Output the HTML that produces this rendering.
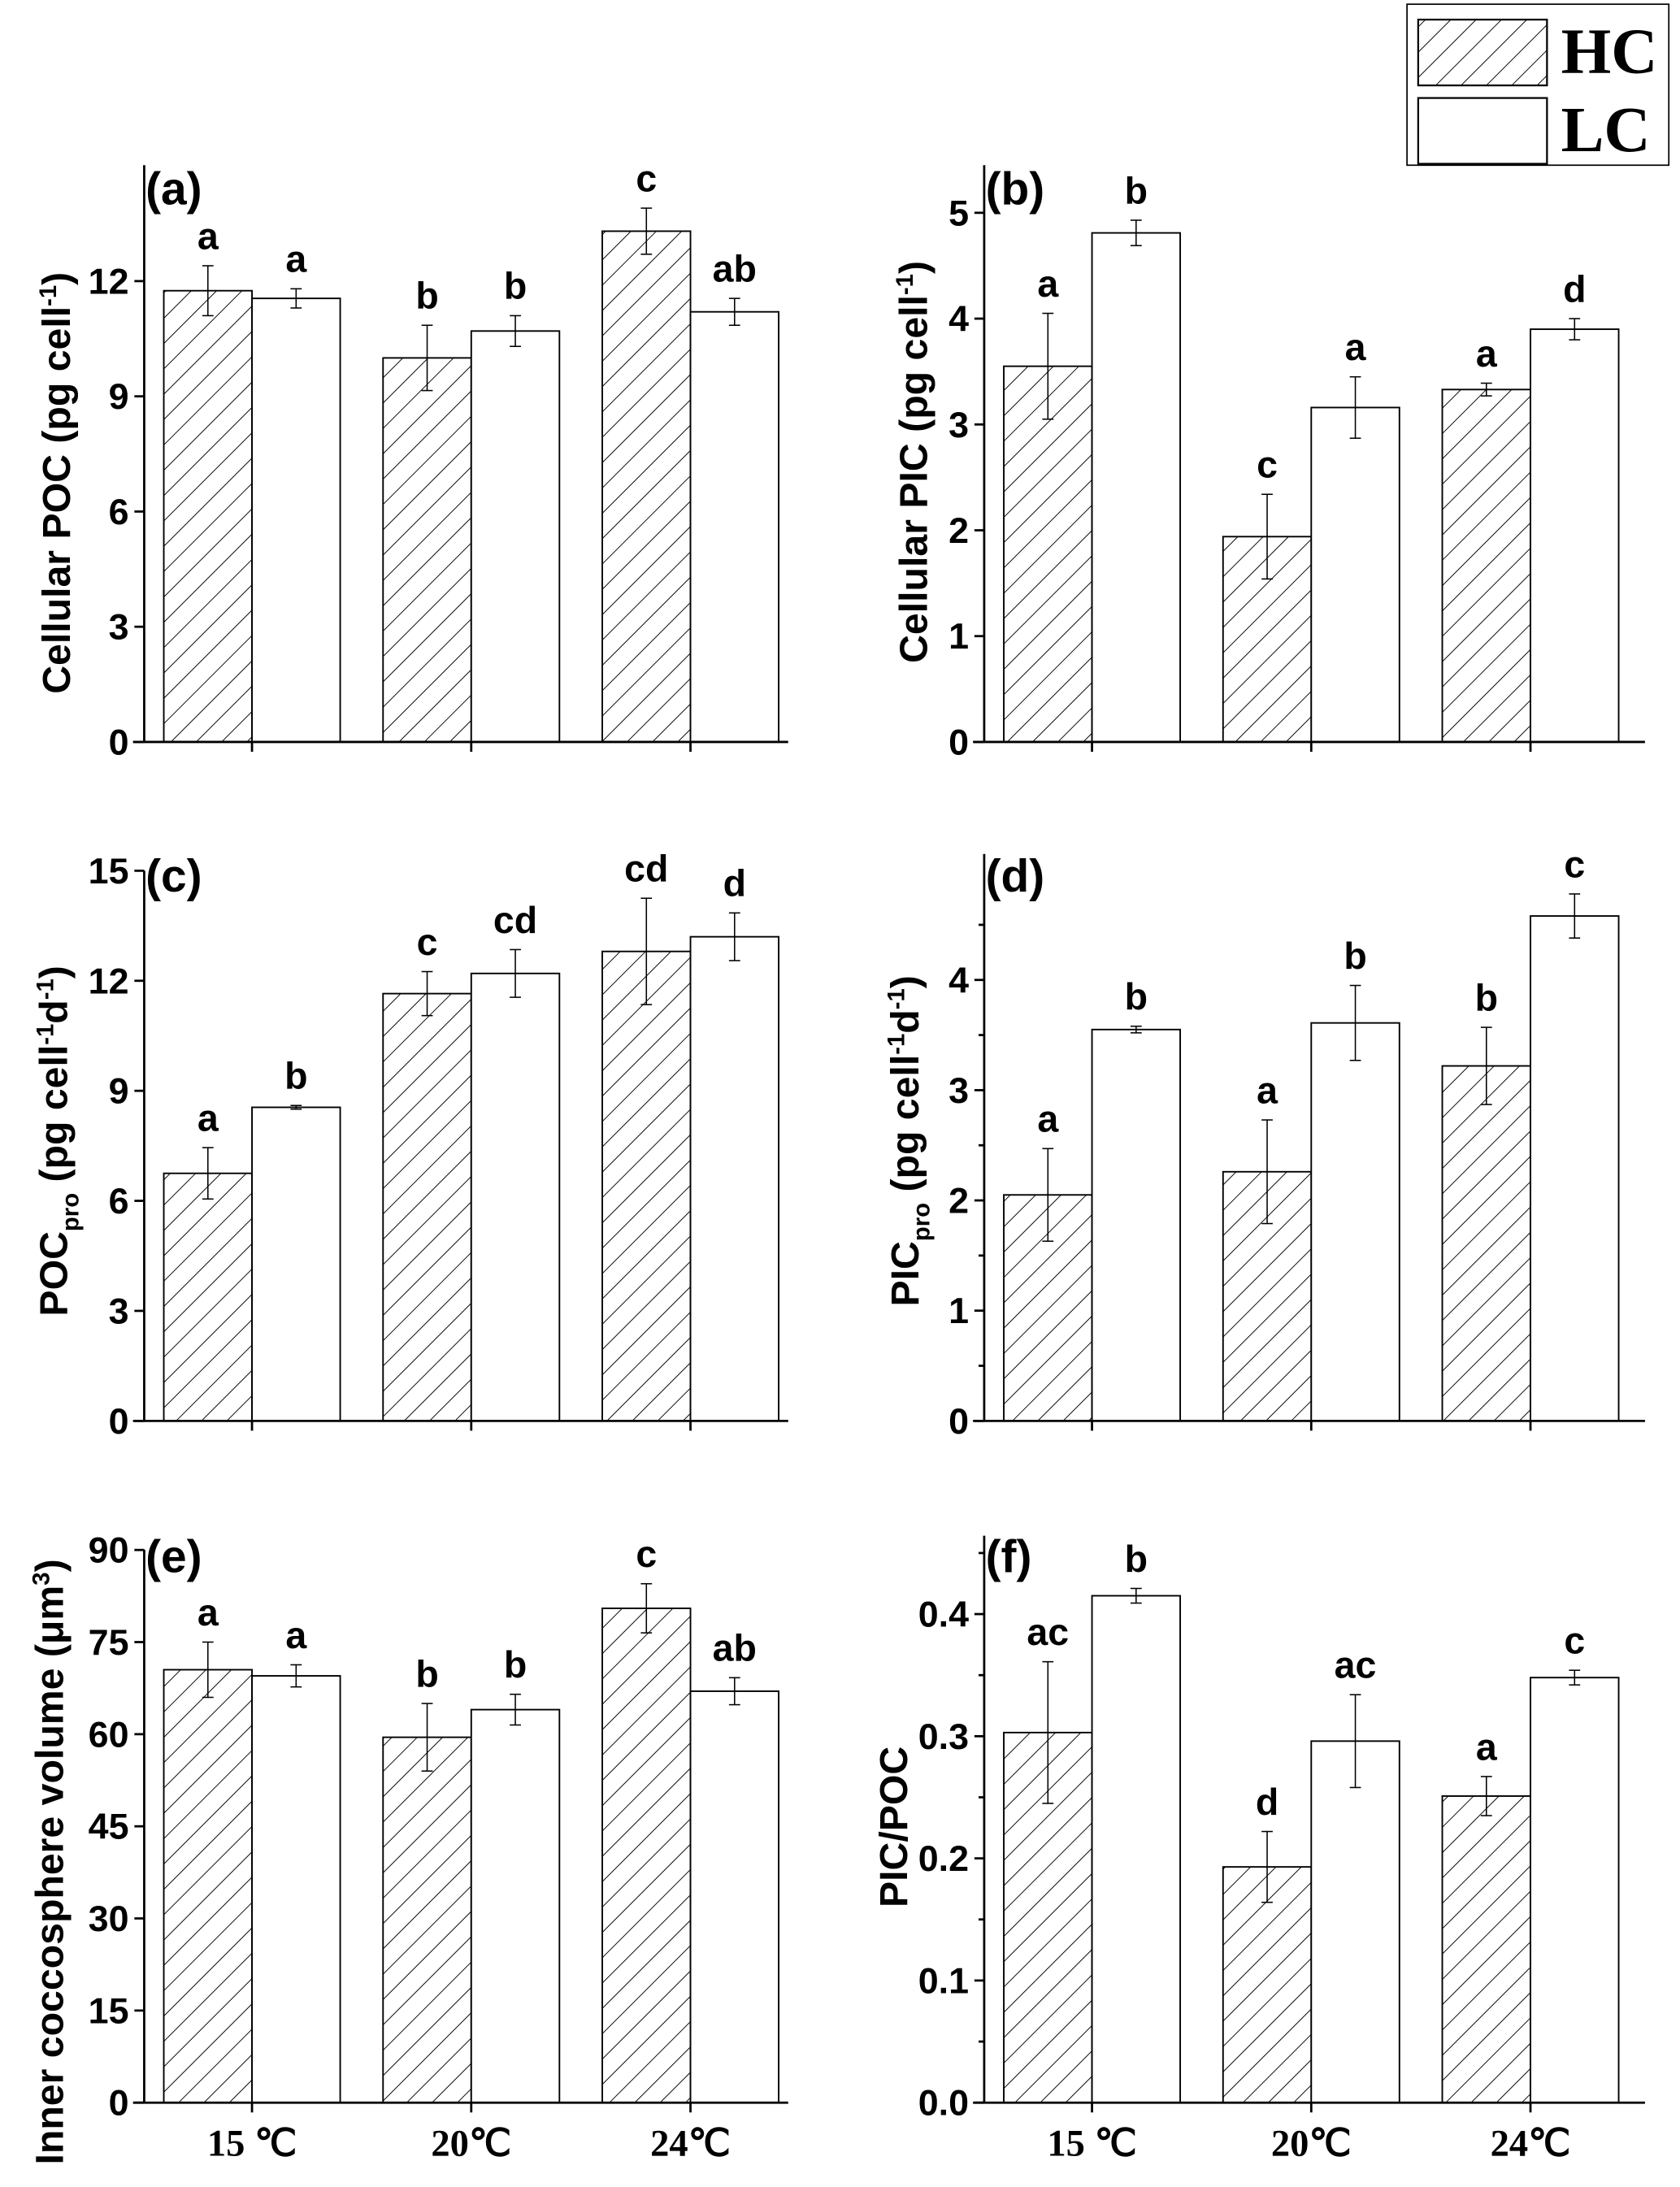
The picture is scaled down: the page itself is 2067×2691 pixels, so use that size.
<!DOCTYPE html>
<html><head><meta charset="utf-8">
<style>
html,body{margin:0;padding:0;background:#fff}
svg{display:block}
text{font-family:"Liberation Sans",Arial,sans-serif;font-weight:bold;fill:#000}
.serif{font-family:"Liberation Serif","Times New Roman",serif;font-weight:bold}
</style></head>
<body>
<svg id="fig" width="2067" height="2691" viewBox="0 0 1200 1562.25" xmlns="http://www.w3.org/2000/svg">
<defs>
<pattern id="hatch" patternUnits="userSpaceOnUse" width="12.8" height="12.8" patternTransform="rotate(45)">
<rect width="12.8" height="12.8" fill="#fff"/>
<line x1="0" y1="0" x2="0" y2="12.8" stroke="#000" stroke-width="1.1"/>
</pattern>
</defs>
<g>
<rect x="1005" y="3" width="187" height="115" fill="#fff" stroke="#000" stroke-width="1"/>
<rect x="1013" y="14" width="92" height="47" fill="url(#hatch)" stroke="#000" stroke-width="1.3"/>
<rect x="1013" y="70" width="92" height="47" fill="#fff" stroke="#000" stroke-width="1.3"/>
<text class="serif" x="1115" y="52" font-size="46">HC</text>
<text class="serif" x="1115" y="108" font-size="46">LC</text>
</g>
<g id="panels"></g>
</svg>
<script>
// ---- data ----
const categories = ["15 \u2103", "20\u2103", "24\u2103"];
const seriesNames = ["HC", "LC"];

const aHC = [11.75, 10.0, 13.3], aLC = [11.55, 10.7, 11.2];
const aHCerr = [0.65, 0.85, 0.6], aLCerr = [0.25, 0.4, 0.35];
const aHClet = ["a", "b", "c"], aLClet = ["a", "b", "ab"];
const aTicks = [0, 3, 6, 9, 12];

const bHC = [3.55, 1.94, 3.33], bLC = [4.81, 3.16, 3.90];
const bHCerr = [0.5, 0.4, 0.06], bLCerr = [0.12, 0.29, 0.1];
const bHClet = ["a", "c", "a"], bLClet = ["b", "a", "d"];
const bTicks = [0, 1, 2, 3, 4, 5];

const cHC = [6.75, 11.65, 12.8], cLC = [8.55, 12.2, 13.2];
const cHCerr = [0.7, 0.6, 1.45], cLCerr = [0.05, 0.65, 0.65];
const cHClet = ["a", "c", "cd"], cLClet = ["b", "cd", "d"];
const cTicks = [0, 3, 6, 9, 12, 15];

const dHC = [2.05, 2.26, 3.22], dLC = [3.55, 3.61, 4.58];
const dHCerr = [0.42, 0.47, 0.35], dLCerr = [0.03, 0.34, 0.2];
const dHClet = ["a", "a", "b"], dLClet = ["b", "b", "c"];
const dTicks = [0, 1, 2, 3, 4];
const dMinor = [0.5, 1.5, 2.5, 3.5, 4.5];

const eHC = [70.5, 59.5, 80.5], eLC = [69.5, 64, 67];
const eHCerr = [4.5, 5.5, 4.0], eLCerr = [1.8, 2.5, 2.2];
const eHClet = ["a", "b", "c"], eLClet = ["a", "b", "ab"];
const eTicks = [0, 15, 30, 45, 60, 75, 90];

const fHC = [0.303, 0.193, 0.251], fLC = [0.415, 0.296, 0.348];
const fHCerr = [0.058, 0.029, 0.016], fLCerr = [0.006, 0.038, 0.006];
const fHClet = ["ac", "d", "a"], fLClet = ["b", "ac", "c"];
const fTicks = [0, 0.1, 0.2, 0.3, 0.4];
const fTickLabels = ["0.0", "0.1", "0.2", "0.3", "0.4"];
const fMinor = [0.05, 0.15, 0.25, 0.35, 0.45];

// ---- drawing ----
const NS = "http://www.w3.org/2000/svg";
const root = document.getElementById("panels");
function mk(tag, attrs, parent) {
  const e = document.createElementNS(NS, tag);
  for (const k in attrs) e.setAttribute(k, attrs[k]);
  parent.appendChild(e);
  return e;
}

function drawPanel(p) {
  const g = mk("g", {}, root);
  
  
  const y = v => p.y0 - (v - p.vmin) * p.ppu;
  const spacing = 156.6, bw = 63;
  const xc = i => p.x0 + 77 + i * spacing;
  for (let i = 0; i < 3; i++) {
    const series = [[p.hc, p.hcErr, p.hcLet, "url(#hatch)", -1, "hc"], [p.lc, p.lcErr, p.lcLet, "#fff", 0, "lc"]];
    series.forEach(s => {
      const v = s[0][i], er = s[1][i];
      const bx = xc(i) + s[4] * bw;
      const r = mk("rect", {x: bx, y: y(v), width: bw, height: p.y0 - y(v), fill: s[3], stroke: "#000", "stroke-width": 1.1}, g);
      
      
      const cx = bx + bw / 2;
      const eg = mk("g", {stroke: "#000", "stroke-width": 0.9}, g);
      
      
      mk("line", {x1: cx, x2: cx, y1: y(v + er), y2: y(v - er)}, eg);
      mk("line", {x1: cx - 4, x2: cx + 4, y1: y(v + er), y2: y(v + er)}, eg);
      mk("line", {x1: cx - 4, x2: cx + 4, y1: y(v - er), y2: y(v - er)}, eg);
      const t = mk("text", {x: cx, y: y(v + er) - 12, "font-size": 27, "text-anchor": "middle"}, g);
      t.textContent = s[2][i];
      
      
    });
  }
  const ax = mk("g", {stroke: "#000", "stroke-width": 1.6}, g);
  
  
  mk("line", {x1: p.x0, x2: p.x0, y1: p.yTop, y2: p.y0}, ax);
  mk("line", {x1: p.x0 - 8, x2: p.x0 + p.len, y1: p.y0, y2: p.y0}, ax);
  for (let i = 0; i < 3; i++) mk("line", {x1: xc(i), x2: xc(i), y1: p.y0, y2: p.y0 + 7}, ax);
  p.ticks.forEach((v, k) => {
    mk("line", {x1: p.x0 - 7, x2: p.x0, y1: y(v), y2: y(v)}, ax);
    const t = mk("text", {x: p.x0 - 11, y: y(v) + 9, "font-size": 26, "text-anchor": "end"}, g);
    t.textContent = p.tickLabels ? p.tickLabels[k] : String(v);
    
    
  });
  (p.minor || []).forEach(v => mk("line", {x1: p.x0 - 4, x2: p.x0, y1: y(v), y2: y(v)}, ax));
  const pl = mk("text", {x: p.x0 + 1, y: p.labelY, "font-size": 33}, g);
  pl.textContent = "(" + p.id + ")";
  
  
  const tt = mk("text", {transform: "translate(" + p.tx + "," + p.ty + ") rotate(-90)", "font-size": 28, "text-anchor": "middle"}, g);
  
  
  p.title.forEach(part => {
    const ts = mk("tspan", {}, tt);
    if (part[1] === "sup") { ts.setAttribute("font-size", "17"); ts.setAttribute("dy", "-10"); }
    if (part[1] === "sub") { ts.setAttribute("font-size", "17"); ts.setAttribute("dy", "8"); }
    if (part[1] === "back") { ts.setAttribute("dy", part[2]); }
    ts.textContent = part[0];
  });
  if (p.xlabels) {
    categories.forEach((c, i) => {
      const t = mk("text", {x: xc(i), y: 1540, "font-size": 27, "text-anchor": "middle", class: "serif"}, g);
      t.textContent = c;
      
      
    });
  }
}

drawPanel({id: "a", x0: 103, y0: 530, vmin: 0, ppu: 82.3 / 3, yTop: 118, labelY: 146, len: 460,
  hc: aHC, lc: aLC, hcErr: aHCerr, lcErr: aLCerr, hcLet: aHClet, lcLet: aLClet, ticks: aTicks,
  tx: 50, ty: 345, title: [["Cellular POC (pg cell"], ["-1", "sup"], [")", "back", "10"]]});
drawPanel({id: "b", x0: 703, y0: 530, vmin: 0, ppu: 75.6, yTop: 118, labelY: 146, len: 472,
  hc: bHC, lc: bLC, hcErr: bHCerr, lcErr: bLCerr, hcLet: bHClet, lcLet: bLClet, ticks: bTicks,
  tx: 662, ty: 330, title: [["Cellular PIC (pg cell"], ["-1", "sup"], [")", "back", "10"]]});
drawPanel({id: "c", x0: 103, y0: 1015, vmin: 0, ppu: 78.6 / 3, yTop: 622, labelY: 637, len: 460,
  hc: cHC, lc: cLC, hcErr: cHCerr, lcErr: cLCerr, hcLet: cHClet, lcLet: cLClet, ticks: cTicks,
  tx: 48, ty: 815, title: [["POC"], ["pro", "sub"], [" (pg cell", "back", "-8"], ["-1", "sup"], ["d", "back", "10"], ["-1", "sup"], [")", "back", "10"]]});
drawPanel({id: "d", x0: 703, y0: 1015, vmin: 0, ppu: 78.75, yTop: 610, labelY: 637, len: 472,
  hc: dHC, lc: dLC, hcErr: dHCerr, lcErr: dLCerr, hcLet: dHClet, lcLet: dLClet, ticks: dTicks, minor: dMinor,
  tx: 656, ty: 815, title: [["PIC"], ["pro", "sub"], [" (pg cell", "back", "-8"], ["-1", "sup"], ["d", "back", "10"], ["-1", "sup"], [")", "back", "10"]]});
drawPanel({id: "e", x0: 103, y0: 1502, vmin: 0, ppu: 65.8 / 15, yTop: 1107, labelY: 1123, len: 460, xlabels: true,
  hc: eHC, lc: eLC, hcErr: eHCerr, lcErr: eLCerr, hcLet: eHClet, lcLet: eLClet, ticks: eTicks,
  tx: 45, ty: 1330, title: [["Inner coccosphere volume (\u03bcm"], ["3", "sup"], [")", "back", "10"]]});
drawPanel({id: "f", x0: 703, y0: 1502, vmin: 0, ppu: 872.5, yTop: 1097, labelY: 1123, len: 472, xlabels: true,
  hc: fHC, lc: fLC, hcErr: fHCerr, lcErr: fLCerr, hcLet: fHClet, lcLet: fLClet, ticks: fTicks, tickLabels: fTickLabels, minor: fMinor,
  tx: 648, ty: 1305, title: [["PIC/POC"]]});
</script>
</body></html>
